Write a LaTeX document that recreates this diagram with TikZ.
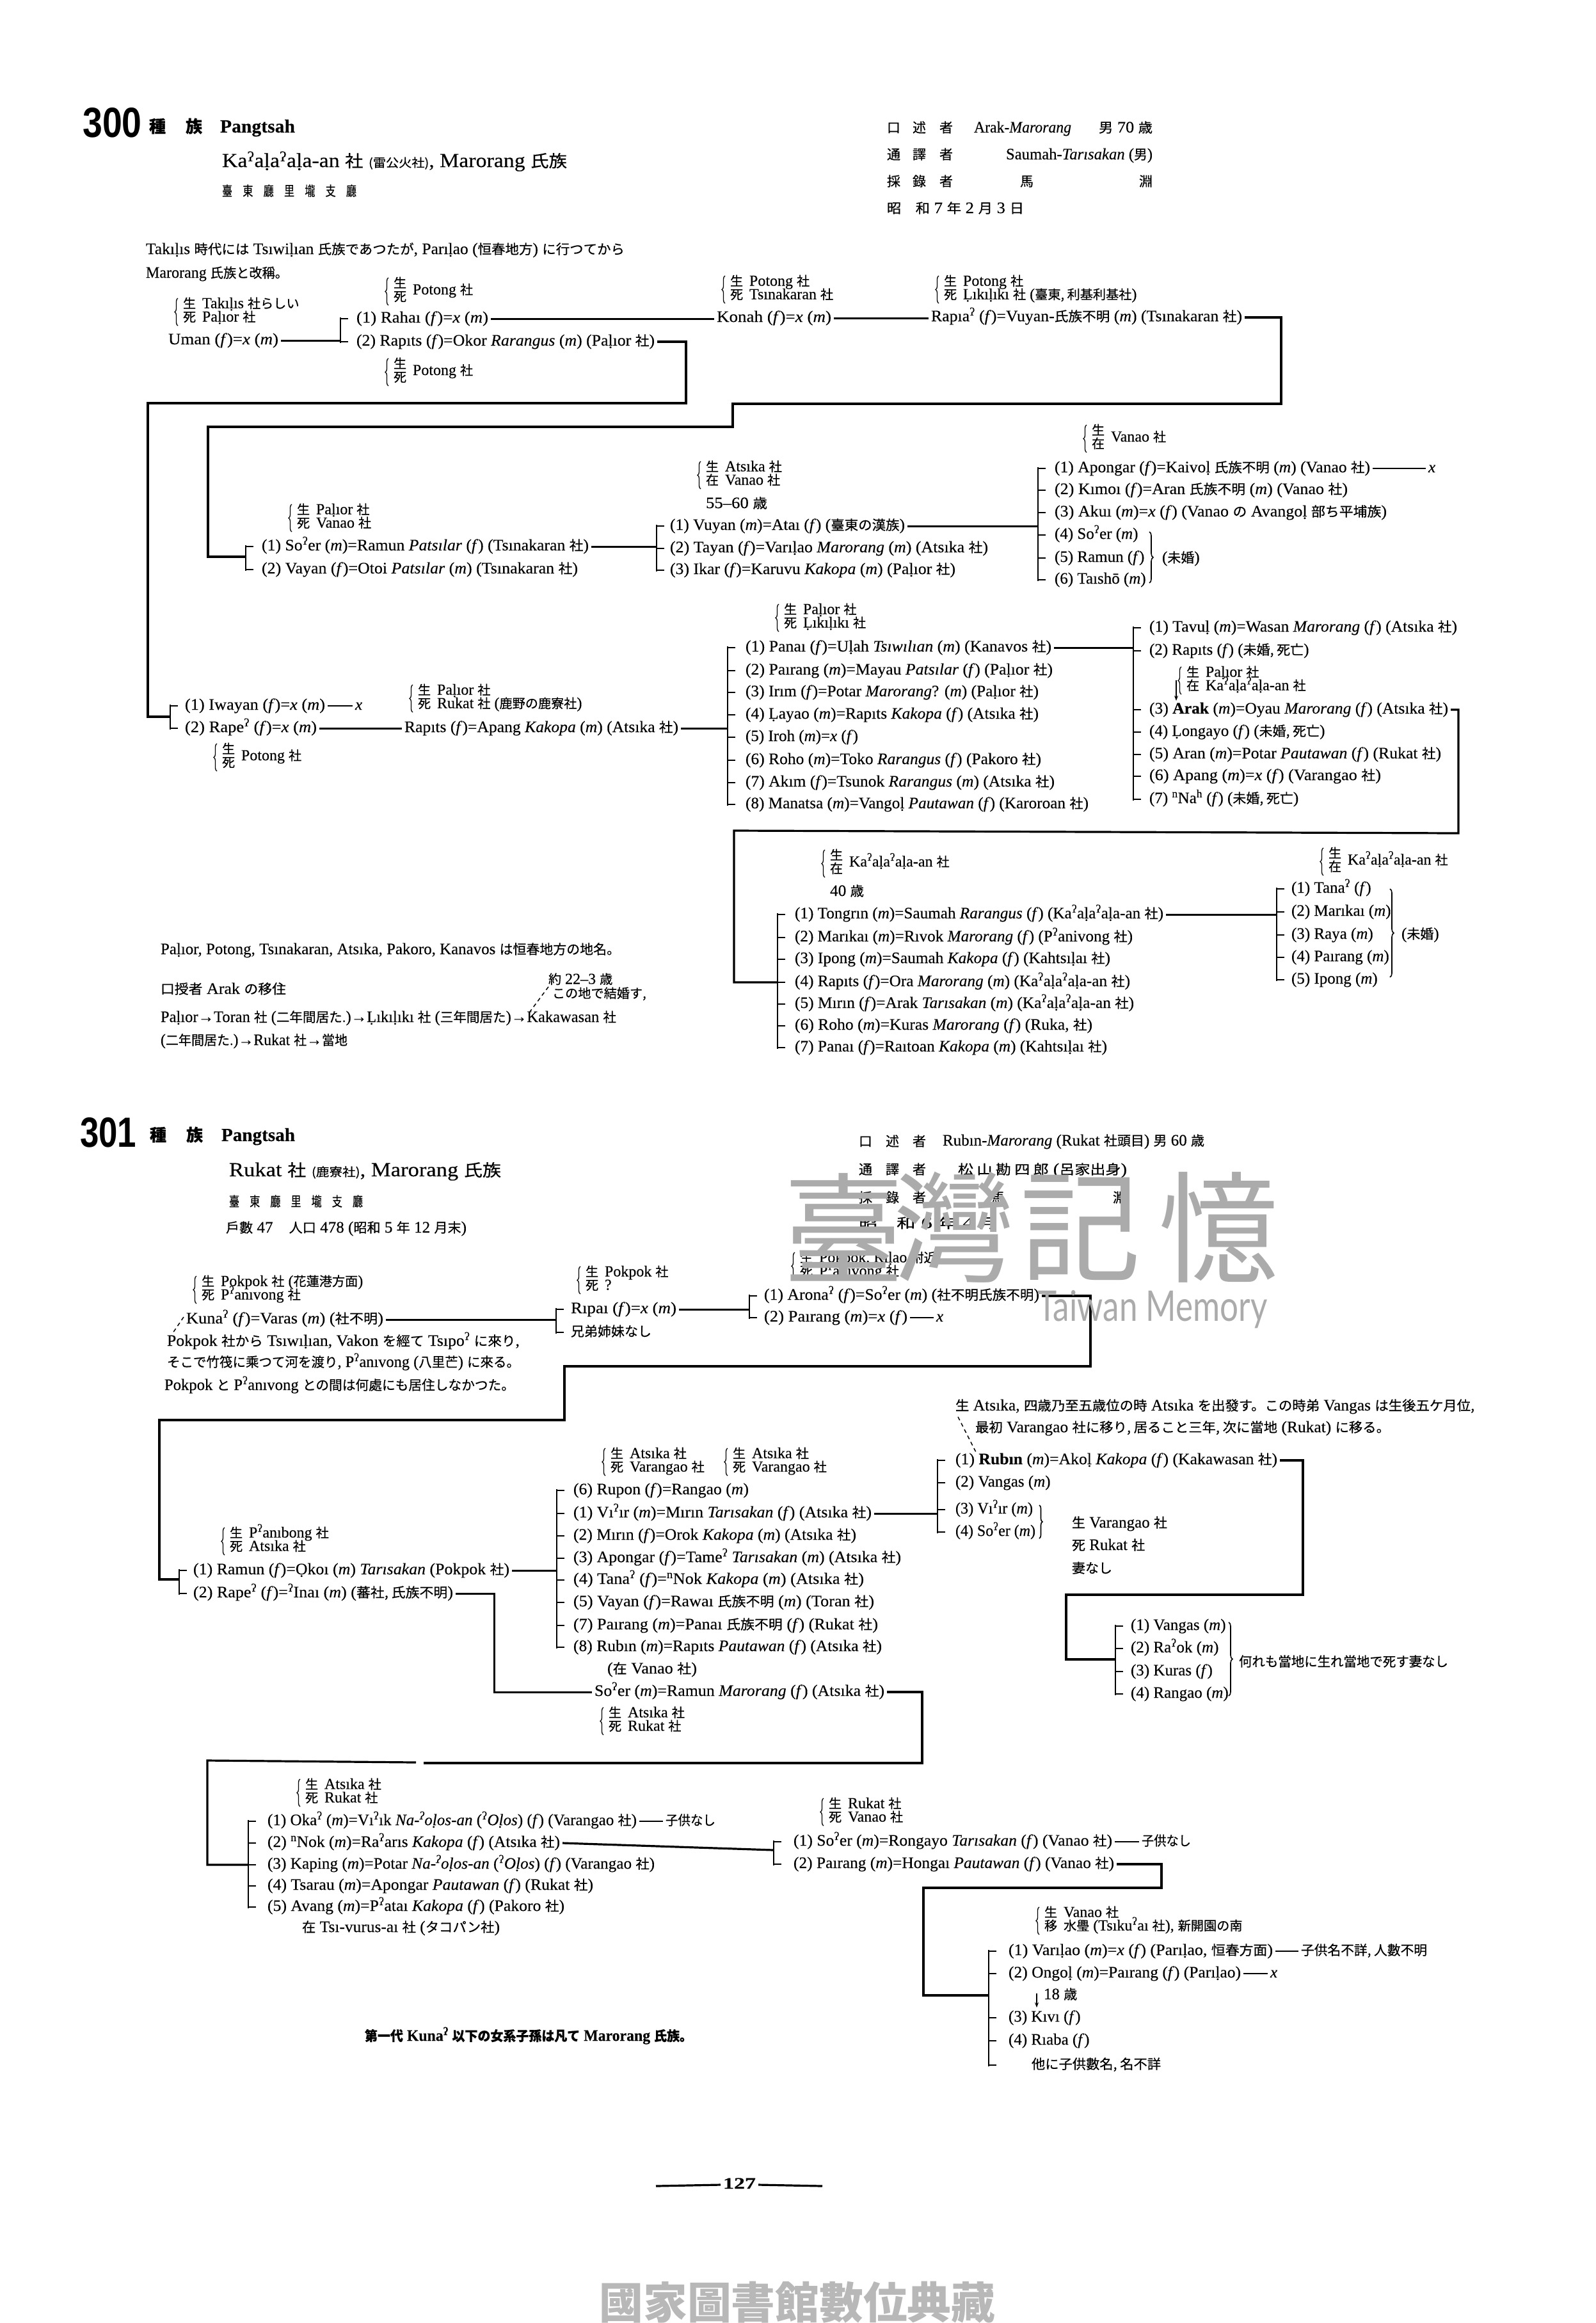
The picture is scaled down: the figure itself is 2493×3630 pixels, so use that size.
\documentclass[tikz,border=0pt]{standalone}
\usepackage{fontspec}
\usepackage{graphicx}
\usetikzlibrary{decorations.pathreplacing,arrows.meta}
\setmainfont{Liberation Serif}[FakeBold=0.25]
\newfontfamily\cjk[Scale=0.84,FakeBold=0.45]{Noto Sans CJK JP}
\newfontfamily\wmf{Noto Sans CJK JP}
\newfontfamily\sansf{Liberation Sans}
\newfontfamily\wmlat{Lato}
\newcommand\J[1]{{\cjk #1}}
\newcommand\Sh{{\cjk 社}}
\newcommand\Fm{(\textit{f})}
\newcommand\Ml{(\textit{m})}
\newcommand\Gs{\textsuperscript{ʔ}}
\newcommand\Kaa{Ka\Gs{}aḷa\Gs{}aḷa-an}
\newcommand\Plr{Paḷıor}
\newcommand\Tsn{Tsınakaran}
\newcommand\Ats{Atsıka}
\newcommand\Lik{Ḷıkıḷıkı}
\newcommand\Hsz{\fontsize{31}{36}\selectfont}
\tikzset{
  txt/.style={anchor=west,inner sep=0pt,outer xsep=4pt,xshift=-4pt,text height=18pt,text depth=6pt,font=\fontsize{25}{30}\selectfont},
  prt/.style={txt,text height=14pt,text depth=5pt,font=\fontsize{24}{26}\selectfont},
  ln/.style={line width=3pt,line join=miter},
  lnc/.style={line width=3.2pt,line join=miter},
  lnt/.style={line width=1.8pt},
  brk/.style={line width=2.4pt},
  brc/.style={line width=1.3pt,decorate,decoration={brace,amplitude=5pt,aspect=0.5}},
  dsh/.style={line width=1.5pt,dash pattern=on 6pt off 5pt},
  wmk/.style={inner sep=0pt,text=black!33,font=\fontsize{188}{200}\selectfont\wmf},
  foot/.style={inner sep=0pt,text=black!28,font=\fontsize{68}{72}\selectfont\wmf\bfseries},
}
\newcommand\Tn[4]{\node[txt] (#1) at (#2,#3) {#4};}
\newcommand\Tp[4]{\node[prt] (#1) at (#2,#3) {#4};}
\newcommand\Tw[5]{\pgfmathsetmacro{\twW}{#3-#2}\node[txt] (#1) at (#2,#4) {\resizebox{\twW pt}{\height}{#5}};}
% pair label: name, brace x, first line y, kanji1, text1, kanji2, text2
\newcommand\Pair[7]{%
  \pgfmathsetmacro{\pk}{#2+10}\pgfmathsetmacro{\pt}{#2+40}\pgfmathsetmacro{\pyb}{#3+21}%
  \Tp{#1k}{\pk}{#3}{\J{#4}}\Tp{#1t}{\pt}{#3}{#5}\Tp{#1l}{\pk}{\pyb}{\J{#6}}\Tp{#1u}{\pt}{\pyb}{#7}%
  \draw[brc] ([xshift=-4pt,yshift=-11pt]#1l.center -| #1k.west) -- ([xshift=-4pt,yshift=11pt]#1k.center -| #1k.west);}
% single label with stacked kanji
\newcommand\Sing[6]{%
  \pgfmathsetmacro{\pk}{#2+10}\pgfmathsetmacro{\pt}{#2+40}\pgfmathsetmacro{\pyb}{#3+21}\pgfmathsetmacro{\pym}{#3+10.5}%
  \Tp{#1k}{\pk}{#3}{\J{#4}}\Tp{#1l}{\pk}{\pyb}{\J{#5}}\Tp{#1t}{\pt}{\pym}{#6}%
  \draw[brc] ([xshift=-4pt,yshift=-11pt]#1l.center -| #1k.west) -- ([xshift=-4pt,yshift=11pt]#1k.center -| #1k.west);}
% bracket: id, x, first row, last row, all rows
\newcommand\Brk[5]{%
  \coordinate (#1) at (#2,0);
  \draw[brk] ([yshift=2pt]#3.center -| #1) -- ([yshift=-2pt]#4.center -| #1);
  \foreach \rw in {#5} {\draw[brk] (\rw.center -| #1) -- ++(12,0);}}
\begin{document}
\begin{tikzpicture}[x=1pt,y=-1pt]
\useasboundingbox (0,0) rectangle (2493,3630);
\fill[white] (0,0) rectangle (2493,3630);

% ================= 300 header
\node[anchor=west,inner sep=0pt,font=\fontsize{66}{70}\selectfont\sansf\bfseries] (n300) at (129,192) {\scalebox{.84}[1]{300}};
\Tn{hs1}{233}{201}{\Hsz\bfseries\J{種}}
\Tn{hs2}{290}{201}{\Hsz\bfseries\J{族}}
\Tw{hs3}{344}{461}{201}{\fontsize{29}{34}\selectfont\bfseries Pangtsah}
\Tw{h1}{347}{886}{255}{\Hsz \Kaa\ \J{社} {\cjk\fontsize{22}{24}\selectfont(雷公火社)}, Marorang \J{氏族}}
\Tw{h2}{347}{557}{300}{\J{臺　東　廳　里　壠　支　廳}}
\Tn{i1a}{1386}{201}{\J{口}}\Tn{i1b}{1426}{201}{\J{述}}\Tn{i1c}{1468}{201}{\J{者}}
\Tw{i1d}{1522}{1674}{201}{Arak-\textit{Marorang}}
\Tw{i1e}{1717}{1801}{201}{\J{男} 70 \J{歳}}
\Tn{i2a}{1386}{243}{\J{通}}\Tn{i2b}{1426}{243}{\J{譯}}\Tn{i2c}{1468}{243}{\J{者}}
\Tw{i2d}{1572}{1801}{243}{Saumah-\textit{Tarısakan} (\J{男})}
\Tn{i3a}{1386}{285}{\J{採}}\Tn{i3b}{1426}{285}{\J{錄}}\Tn{i3c}{1468}{285}{\J{者}}
\Tn{i3d}{1594}{285}{\J{馬}}\Tn{i3e}{1780}{285}{\J{淵}}
\Tw{i4}{1386}{1600}{327}{\J{昭　和} 7 \J{年} 2 \J{月} 3 \J{日}}

\Tw{in1}{228}{976}{391}{Takıḷıs \J{時代には} Tsıwiḷıan \J{氏族であつたが}, Parıḷao (\J{恒春地方}) \J{に行つてから}}
\Tw{in2}{228}{450}{428}{Marorang \J{氏族と改稱。}}

% ================= 300 row 1
\Pair{pa}{276}{477}{生}{Takıḷıs \J{社らしい}}{死}{\Plr\ \Sh}
\Sing{pb}{605}{445}{生}{死}{Potong \Sh}
\Sing{pc}{605}{571}{生}{死}{Potong \Sh}
\Tw{uman}{263}{435}{532}{Uman \Fm=\textit{x} \Ml}
\Tw{rahai}{557}{763}{498}{(1) Rahaı \Fm=\textit{x} \Ml}
\Tw{rapits}{557}{1023}{534}{(2) Rapıts \Fm=Okor \textit{Rarangus} \Ml\ (\Plr\ \Sh)}
\Brk{b1}{532}{rahai}{rapits}{rahai,rapits}
\draw[ln] (uman.east) -- (uman.east -| b1);
\Tw{konah}{1120}{1299}{497}{Konah \Fm=\textit{x} \Ml}
\draw[ln] (rahai.east) -- (rahai.east -| konah.west);
\Pair{pd}{1131}{442}{生}{Potong \Sh}{死}{\Tsn\ \Sh}
\Tw{rapia}{1455}{1941}{496}{Rapıa\Gs{} \Fm=Vuyan-\J{氏族不明} \Ml\ (\Tsn\ \Sh)}
\draw[ln] (konah.east) -- (konah.east -| rapia.west);
\Pair{pe}{1465}{442}{生}{Potong \Sh}{死}{\Lik\ \Sh\ (\J{臺東, 利基利基社})}
\coordinate (c1) at (2002,631);\coordinate (c2) at (1145,631);\coordinate (c3) at (1145,667);\coordinate (c4) at (325,667);\coordinate (c5) at (325,870);
\coordinate (d1) at (1072,630);\coordinate (d2) at (231,630);\coordinate (d3) at (231,1120);

% ================= 300 row 2
\Tw{soer}{409}{920}{854}{(1) So\Gs{}er \Ml=Ramun \textit{Patsılar} \Fm\ (\Tsn\ \Sh)}
\Tw{vayan}{409}{903}{890}{(2) Vayan \Fm=Otoi \textit{Patsılar} \Ml\ (\Tsn\ \Sh)}
\Pair{pf}{454}{799}{生}{\Plr\ \Sh}{死}{Vanao \Sh}
\Brk{b3}{384}{soer}{vayan}{soer,vayan}
\draw[lnc] (rapia.east) -| (c1) -- (c2) -- (c3) -- (c4) -- (c5) -- (c5 -| b3);
\Tw{vuyan}{1047}{1414}{822}{(1) Vuyan \Ml=Ataı \Fm\ (\J{臺東の漢族})}
\Tw{tayan}{1047}{1544}{857}{(2) Tayan \Fm=Varıḷao \textit{Marorang} \Ml\ (\Ats\ \Sh)}
\Tw{ikar}{1047}{1493}{891}{(3) Ikar \Fm=Karuvu \textit{Kakopa} \Ml\ (\Plr\ \Sh)}
\Brk{b4}{1026}{vuyan}{ikar}{vuyan,tayan,ikar}
\draw[ln] (soer.east) -- (soer.east -| b4);
\Pair{pg}{1093}{732}{生}{\Ats\ \Sh}{在}{Vanao \Sh}
\Tw{age1}{1103}{1199}{788}{55--60 \J{歳}}
\Sing{ph}{1696}{675}{生}{在}{Vanao \Sh}
\Tw{apo}{1648}{2141}{732}{(1) Apongar \Fm=Kaivoḷ \J{氏族不明} \Ml\ (Vanao \Sh)}
\Tn{xa}{2232}{732}{\textit{x}}
\draw[lnt] (apo.east) -- (xa.west);
\Tw{kimo}{1648}{2106}{766}{(2) Kımoı \Fm=Aran \J{氏族不明} \Ml\ (Vanao \Sh)}
\Tw{aku}{1648}{2167}{801}{(3) Akuı \Ml=\textit{x} \Fm\ (Vanao \J{の} Avangoḷ \J{部ち平埔族})}
\Tn{so4}{1648}{836}{(4) So\Gs{}er \Ml}
\Tn{ra5}{1648}{872}{(5) Ramun \Fm}
\Tn{ta6}{1648}{906}{(6) Taıshō \Ml}
\Brk{b5}{1622}{apo}{ta6}{apo,kimo,aku,so4,ra5,ta6}
\draw[ln] (vuyan.east) -- (vuyan.east -| b5);
\coordinate (rb1a) at (1796,831);\coordinate (rb1b) at (1796,911);
\draw[line width=1.6pt,decorate,decoration={brace,amplitude=6pt}] (rb1a) -- (rb1b);
\Tn{unm1}{1816}{873}{(\J{未婚})}

% ================= 300 row 3
\Tw{iway}{289}{508}{1103}{(1) Iwayan \Fm=\textit{x} \Ml}
\Tn{xb}{555}{1103}{\textit{x}}
\draw[lnt] (iway.east) -- (xb.west);
\Tw{rape}{289}{495}{1138}{(2) Rape\Gs{} \Fm=\textit{x} \Ml}
\Brk{b6}{266}{iway}{rape}{iway,rape}
\draw[lnc] (rapits.east) -| (d1) -- (d2) -- (d3) -- (d3 -| b6);
\Sing{pi}{337}{1173}{生}{死}{Potong \Sh}
\Tw{apang}{632}{1060}{1138}{Rapıts \Fm=Apang \textit{Kakopa} \Ml\ (\Ats\ \Sh)}
\draw[ln] (rape.east) -- (rape.east -| apang.west);
\Pair{pj}{643}{1081}{生}{\Plr\ \Sh}{死}{Rukat \Sh\ (\J{鹿野の鹿寮社})}

\Tw{ch1}{1165}{1643}{1012}{(1) Panaı \Fm=Uḷah \textit{Tsıwılıan} \Ml\ (Kanavos \Sh)}
\Tw{ch2}{1165}{1645}{1048}{(2) Paırang \Ml=Mayau \textit{Patsılar} \Fm\ (\Plr\ \Sh)}
\Tw{ch3}{1165}{1623}{1082}{(3) Irım \Fm=Potar \textit{Marorang}? \Ml\ (\Plr\ \Sh)}
\Tw{ch4}{1165}{1623}{1117}{(4) Ḷayao \Ml=Rapıts \textit{Kakopa} \Fm\ (\Ats\ \Sh)}
\Tn{ch5}{1165}{1152}{(5) Iroh \Ml=\textit{x} \Fm}
\Tw{ch6}{1165}{1627}{1188}{(6) Roho \Ml=Toko \textit{Rarangus} \Fm\ (Pakoro \Sh)}
\Tw{ch7}{1165}{1648}{1223}{(7) Akım \Fm=Tsunok \textit{Rarangus} \Ml\ (\Ats\ \Sh)}
\Tw{ch8}{1165}{1701}{1257}{(8) Manatsa \Ml=Vangoḷ \textit{Pautawan} \Fm\ (Karoroan \Sh)}
\Brk{b7}{1137}{ch1}{ch8}{ch1,ch2,ch3,ch4,ch5,ch6,ch7,ch8}
\draw[ln] (apang.east) -- (apang.east -| b7);
\Pair{pk}{1215}{955}{生}{\Plr\ \Sh}{死}{\Lik\ \Sh}

\Tw{dh1}{1796}{2277}{981}{(1) Tavuḷ \Ml=Wasan \textit{Marorang} \Fm\ (\Ats\ \Sh)}
\Tn{dh2}{1796}{1017}{(2) Rapıts \Fm\ (\J{未婚, 死亡})}
\Tw{dh3}{1796}{2263}{1109}{(3) \textbf{Arak} \Ml=Oyau \textit{Marorang} \Fm\ (\Ats\ \Sh)}
\Tn{dh4}{1796}{1144}{(4) Ḷongayo \Fm\ (\J{未婚, 死亡})}
\Tw{dh5}{1796}{2252}{1179}{(5) Aran \Ml=Potar \textit{Pautawan} \Fm\ (Rukat \Sh)}
\Tw{dh6}{1796}{2158}{1213}{(6) Apang \Ml=\textit{x} \Fm\ (Varangao \Sh)}
\Tn{dh7}{1796}{1249}{(7) \textsuperscript{n}Na\textsuperscript{h} \Fm\ (\J{未婚, 死亡})}
\Brk{b8}{1771}{dh1}{dh7}{dh1,dh2,dh3,dh4,dh5,dh6,dh7}
\draw[ln] (ch1.east) -- (ch1.east -| b8);
\Pair{pl}{1844}{1053}{生}{\Plr\ \Sh}{在}{\Kaa\ \Sh}
\coordinate (ar1) at (1838,1063);\coordinate (ar2) at (1838,1095);
\draw[line width=1.5pt,-{Stealth[length=8pt]}] (ar1) -- (ar2);

% ================= 300 row 4
\Tw{eh1}{1242}{1818}{1429}{(1) Tongrın \Ml=Saumah \textit{Rarangus} \Fm\ (\Kaa\ \Sh)}
\Tw{eh2}{1242}{1770}{1465}{(2) Marıkaı \Ml=Rıvok \textit{Marorang} \Fm\ (P\Gs{}anivong \Sh)}
\Tw{eh3}{1242}{1735}{1499}{(3) Ipong \Ml=Saumah \textit{Kakopa} \Fm\ (Kahtsıḷaı \Sh)}
\Tw{eh4}{1242}{1766}{1535}{(4) Rapıts \Fm=Ora \textit{Marorang} \Ml\ (\Kaa\ \Sh)}
\Tw{eh5}{1242}{1772}{1569}{(5) Mırın \Fm=Arak \textit{Tarısakan} \Ml\ (\Kaa\ \Sh)}
\Tw{eh6}{1242}{1707}{1603}{(6) Roho \Ml=Kuras \textit{Marorang} \Fm\ (Ruka, \Sh)}
\Tw{eh7}{1242}{1730}{1637}{(7) Panaı \Fm=Raıtoan \textit{Kakopa} \Ml\ (Kahtsıḷaı \Sh)}
\Brk{b9}{1215}{eh1}{eh7}{eh1,eh2,eh3,eh4,eh5,eh6,eh7}
\coordinate (e1) at (2279,1302);\coordinate (e2) at (1147,1298);\coordinate (e3) at (1147,1535);
\draw[lnc] (dh3.east) -| (e1) -- (e2) -- (e3) -- (e3 -| b9);
\Sing{pm}{1287}{1339}{生}{在}{\Kaa\ \Sh}
\Tw{age2}{1297}{1350}{1394}{40 \J{歳}}
\Tn{fh1}{2018}{1389}{(1) Tana\Gs{} \Fm}
\Tn{fh2}{2018}{1425}{(2) Marıkaı \Ml}
\Tn{fh3}{2018}{1461}{(3) Raya \Ml}
\Tn{fh4}{2018}{1496}{(4) Paırang \Ml}
\Tn{fh5}{2018}{1531}{(5) Ipong \Ml}
\Brk{b10}{1995}{fh1}{fh5}{fh1,fh2,fh3,fh4,fh5}
\draw[ln] (eh1.east) -- (eh1.east -| b10);
\coordinate (rb2a) at (2172,1389);\coordinate (rb2b) at (2172,1527);
\draw[line width=1.6pt,decorate,decoration={brace,amplitude=6pt}] (rb2a) -- (rb2b);
\Tn{unm2}{2190}{1461}{(\J{未婚})}
\Sing{pn}{2066}{1336}{生}{在}{\Kaa\ \Sh}

% ================= 300 notes
\Tw{nt1}{251}{969}{1485}{\Plr, Potong, \Tsn, \Ats, Pakoro, Kanavos \J{は恒春地方の地名。}}
\Tw{nt2}{251}{447}{1547}{\J{口授者} Arak \J{の移住}}
\Tw{nt3}{251}{963}{1591}{\Plr→Toran \Sh\ (\J{二年間居た.})→\Lik\ \Sh\ (\J{三年間居た})→Kakawasan \Sh}
\Tw{nt4}{251}{543}{1627}{(\J{二年間居た.})→Rukat \Sh→\J{當地}}
\node[prt] (nt5) at (857,1533) {\J{約} 22--3 \J{歳}};
\node[prt] (nt6) at (863,1555) {\J{この地で結婚す,}};
\coordinate (ds1) at (857,1542);\coordinate (ds2) at (828,1581);
\draw[dsh] (ds1) -- (ds2);

% ================= 301 header
\node[anchor=west,inner sep=0pt,font=\fontsize{66}{70}\selectfont\sansf\bfseries] (n301) at (125,1770) {\scalebox{.8}[1]{301}};
\Tn{js1}{234}{1777}{\Hsz\bfseries\J{種}}
\Tn{js2}{291}{1777}{\Hsz\bfseries\J{族}}
\Tw{js3}{346}{461}{1777}{\fontsize{29}{34}\selectfont\bfseries Pangtsah}
\Tw{j1}{358}{783}{1832}{\Hsz Rukat \J{社} {\cjk\fontsize{22}{24}\selectfont(鹿寮社)}, Marorang \J{氏族}}
\Tw{j2}{358}{567}{1879}{\J{臺　東　廳　里　壠　支　廳}}
\Tw{j3}{353}{729}{1920}{\J{戶數} 47\quad\J{人口} 478 (\J{昭和} 5 \J{年} 12 \J{月末})}
\Tn{k1a}{1342}{1785}{\J{口}}\Tn{k1b}{1384}{1785}{\J{述}}\Tn{k1c}{1426}{1785}{\J{者}}
\Tw{k1d}{1473}{1882}{1784}{Rubın-\textit{Marorang} (Rukat \J{社頭目}) \J{男} 60 \J{歳}}
\Tn{k2a}{1342}{1829}{\J{通}}\Tn{k2b}{1384}{1829}{\J{譯}}\Tn{k2c}{1426}{1829}{\J{者}}
\Tw{k2d}{1497}{1761}{1829}{\J{松 山 勘 四 郎} (\J{呂家出身})}
\Tn{k3a}{1342}{1873}{\J{採}}\Tn{k3b}{1384}{1873}{\J{錄}}\Tn{k3c}{1426}{1873}{\J{者}}
\Tn{k3d}{1549}{1873}{\J{馬}}\Tn{k3e}{1739}{1873}{\J{淵}}
\Tw{k4}{1342}{1560}{1913}{\J{昭　和} 6 \J{年} 4 \J{月}}

\Pair{qa}{305}{2005}{生}{Pokpok \Sh\ (\J{花蓮港方面})}{死}{P\Gs{}anıvong \Sh}
\Tw{kuna}{291}{599}{2062}{Kuna\Gs{} \Fm=Varas \Ml\ (\J{社不明})}
\coordinate (ds3) at (287,2058);\coordinate (ds4) at (270,2083);
\draw[dsh] (ds3) -- (ds4);
\Tw{kt1}{261}{812}{2097}{Pokpok \J{社から} Tsıwıḷıan, Vakon \J{を經て} Tsıpo\Gs{} \J{に來り},}
\Tw{kt2}{261}{812}{2130}{\J{そこで竹筏に乘つて河を渡り}, P\Gs{}anıvong (\J{八里芒}) \J{に來る。}}
\Tw{kt3}{257}{804}{2166}{Pokpok \J{と} P\Gs{}anıvong \J{との間は何處にも居住しなかつた。}}
\Tw{ripai}{892}{1057}{2046}{Rıpaı \Fm=\textit{x} \Ml}
\Tw{noko}{892}{1018}{2082}{\J{兄弟姉妹なし}}
\Brk{b11}{869}{ripai}{noko}{ripai,noko}
\draw[ln] (kuna.east) -- (kuna.east -| b11);
\Pair{qb}{905}{1990}{生}{Pokpok \Sh}{死}{?}
\Tw{arona}{1194}{1624}{2025}{(1) Arona\Gs{} \Fm=So\Gs{}er \Ml\ (\J{社不明氏族不明})}
\Tw{pai1}{1194}{1418}{2059}{(2) Paırang \Ml=\textit{x} \Fm}
\Tn{xc}{1463}{2059}{\textit{x}}
\draw[lnt] (pai1.east) -- (xc.west);
\Brk{b12}{1171}{arona}{pai1}{arona,pai1}
\draw[ln] (ripai.east) -- (ripai.east -| b12);
\Pair{qc}{1240}{1968}{生}{Pokpok, Rıḷao \J{附近}}{死}{P\Gs{}anıvong \Sh}

% ================= 301 row 2
\Tw{ramun}{302}{796}{2454}{(1) Ramun \Fm=Ọkoı \Ml\ \textit{Tarısakan} (Pokpok \Sh)}
\Tw{rapeb}{302}{708}{2490}{(2) Rape\Gs{} \Fm=\Gs{}Inaı \Ml\ (\J{蕃社, 氏族不明})}
\Brk{b13}{280}{ramun}{rapeb}{ramun,rapeb}
\coordinate (f1) at (1704,2135);\coordinate (f2) at (882,2135);\coordinate (f3) at (882,2219);\coordinate (f4) at (249,2219);\coordinate (f5) at (249,2468);
\draw[lnc] (arona.east) -| (f1) -- (f2) -- (f3) -- (f4) -- (f5) -- (f5 -| b13);
\Pair{qd}{349}{2398}{生}{P\Gs{}anıbong \Sh}{死}{\Ats\ \Sh}

\Tw{gh6}{896}{1170}{2329}{(6) Rupon \Fm=Rangao \Ml}
\Tw{gh1}{896}{1362}{2365}{(1) Vı\Gs{}ır \Ml=Mırın \textit{Tarısakan} \Fm\ (\Ats\ \Sh)}
\Tw{gh2}{896}{1338}{2400}{(2) Mırın \Fm=Orok \textit{Kakopa} \Ml\ (\Ats\ \Sh)}
\Tw{gh3}{896}{1408}{2435}{(3) Apongar \Fm=Tame\Gs{} \textit{Tarısakan} \Ml\ (\Ats\ \Sh)}
\Tw{gh4}{896}{1350}{2469}{(4) Tana\Gs{} \Fm=\textsuperscript{n}Nok \textit{Kakopa} \Ml\ (\Ats\ \Sh)}
\Tw{gh5}{896}{1366}{2504}{(5) Vayan \Fm=Rawaı \J{氏族不明} \Ml\ (Toran \Sh)}
\Tw{gh7}{896}{1372}{2540}{(7) Paırang \Ml=Panaı \J{氏族不明} \Fm\ (Rukat \Sh)}
\Tw{gh8}{896}{1378}{2574}{(8) Rubın \Ml=Rapıts \textit{Pautawan} \Fm\ (\Ats\ \Sh)}
\Tw{ghv}{949}{1089}{2609}{(\J{在} Vanao \Sh)}
\Brk{b14}{870}{gh6}{gh8}{gh6,gh1,gh2,gh3,gh4,gh5,gh7,gh8}
\draw[ln] (ramun.east) -- (ramun.east -| b14);
\Pair{qe}{944}{2274}{生}{\Ats\ \Sh}{死}{Varangao \Sh}
\Pair{qf}{1135}{2274}{生}{\Ats\ \Sh}{死}{Varangao \Sh}

\Tw{tp1}{1493}{2304}{2198}{\J{生} \Ats, \J{四歳乃至五歳位の時} \Ats\ \J{を出發す。この時弟} Vangas \J{は生後五ケ月位,}}
\Tw{tp2}{1524}{2172}{2232}{\J{最初} Varangao \J{社に移り, 居ること三年, 次に當地} (Rukat) \J{に移る。}}
\coordinate (ds5) at (1497,2214);\coordinate (ds6) at (1526,2271);
\draw[dsh] (ds5) -- (ds6);
\Tw{rubin}{1493}{1996}{2282}{(1) \textbf{Rubın} \Ml=Akoḷ \textit{Kakopa} \Fm\ (Kakawasan \Sh)}
\Tn{hh2}{1493}{2317}{(2) Vangas \Ml}
\Tw{hh3}{1493}{1614}{2359}{(3) Vı\Gs{}ır \Ml}
\Tw{hh4}{1493}{1618}{2394}{(4) So\Gs{}er \Ml}
\Brk{b15}{1465}{rubin}{hh4}{rubin,hh2,hh3,hh4}
\draw[ln] (gh1.east) -- (gh1.east -| b15);
\coordinate (rb3a) at (1624,2352);\coordinate (rb3b) at (1624,2404);
\draw[line width=1.6pt,decorate,decoration={brace,amplitude=5pt}] (rb3a) -- (rb3b);
\Tn{vr1}{1675}{2381}{\J{生} Varangao \Sh}
\Tn{vr2}{1675}{2416}{\J{死} Rukat \Sh}
\Tn{vr3}{1675}{2452}{\J{妻なし}}
\Tn{ih1}{1767}{2541}{(1) Vangas \Ml}
\Tn{ih2}{1767}{2576}{(2) Ra\Gs{}ok \Ml}
\Tn{ih3}{1767}{2612}{(3) Kuras \Fm}
\Tn{ih4}{1767}{2647}{(4) Rangao \Ml}
\Brk{b16}{1743}{ih1}{ih4}{ih1,ih2,ih3,ih4}
\coordinate (h1) at (2036,2492);\coordinate (h2) at (1666,2492);\coordinate (h3) at (1666,2593);
\draw[lnc] (rubin.east) -| (h1) -- (h2) -- (h3) -- (h3 -| b16);
\coordinate (rb4a) at (1920,2535);\coordinate (rb4b) at (1920,2650);
\draw[line width=1.6pt,decorate,decoration={brace,amplitude=6pt}] (rb4a) -- (rb4b);
\Tw{ihn}{1936}{2263}{2598}{\J{何れも當地に生れ當地で死す妻なし}}

\Tw{soerb}{929}{1382}{2644}{So\Gs{}er \Ml=Ramun \textit{Marorang} \Fm\ (\Ats\ \Sh)}
\coordinate (g1) at (772,2644);
\draw[ln] (rapeb.east) -| (g1) -- (soerb.west);
\Pair{qg}{941}{2679}{生}{\Ats\ \Sh}{死}{Rukat \Sh}

% ================= 301 row 3
\Tw{lh1}{418}{995}{2846}{(1) Oka\Gs{} \Ml=Vı\Gs{}ık \textit{Na-\Gs{}oḷos-an} (\Gs{}\textit{Oḷos}) \Fm\ (Varangao \Sh)}
\Tw{lhn}{1040}{1118}{2846}{\J{子供なし}}
\draw[lnt] (lh1.east) -- (lhn.west);
\Tw{lh2}{418}{875}{2880}{(2) \textsuperscript{n}Nok \Ml=Ra\Gs{}arıs \textit{Kakopa} \Fm\ (\Ats\ \Sh)}
\Tw{lh3}{418}{1023}{2914}{(3) Kaping \Ml=Potar \textit{Na-\Gs{}oḷos-an} (\Gs{}\textit{Oḷos}) \Fm\ (Varangao \Sh)}
\Tw{lh4}{418}{927}{2947}{(4) Tsarau \Ml=Apongar \textit{Pautawan} \Fm\ (Rukat \Sh)}
\Tw{lh5}{418}{882}{2980}{(5) Avang \Ml=P\Gs{}ataı \textit{Kakopa} \Fm\ (Pakoro \Sh)}
\Tw{lh6}{472}{781}{3013}{\J{在} Tsı-vurus-aı \Sh\ (\J{タコパン社})}
\Brk{b17}{388}{lh1}{lh5}{lh1,lh2,lh3,lh4,lh5}
\coordinate (m1) at (1441,2755);\coordinate (m2) at (662,2755);\coordinate (m3) at (650,2754);\coordinate (m4) at (324,2751);\coordinate (m5) at (324,2914);
\draw[lnc] (soerb.east) -| (m1) -- (m2);
\draw[lnc] (m3) -- (m4) -- (m5) -- (m5 -| b17);
\Pair{qh}{467}{2791}{生}{\Ats\ \Sh}{死}{Rukat \Sh}

\Tw{nh1}{1240}{1738}{2878}{(1) So\Gs{}er \Ml=Rongayo \textit{Tarısakan} \Fm\ (Vanao \Sh)}
\Tw{nhn}{1784}{1861}{2878}{\J{子供なし}}
\draw[lnt] (nh1.east) -- (nhn.west);
\Tw{nh2}{1240}{1741}{2913}{(2) Paırang \Ml=Hongaı \textit{Pautawan} \Fm\ (Vanao \Sh)}
\Brk{b18}{1209}{nh1}{nh2}{nh1,nh2}
\coordinate (n1) at (1209,2891);
\draw[lnc] (lh2.east) -- (n1);
\Pair{qi}{1285}{2821}{生}{Rukat \Sh}{死}{Vanao \Sh}

\Tw{oh1}{1576}{1989}{3049}{(1) Varıḷao \Ml=\textit{x} \Fm\ (Parıḷao, \J{恒春方面})}
\Tw{ohn}{2033}{2230}{3049}{\J{子供名不詳, 人數不明}}
\draw[lnt] (oh1.east) -- (ohn.west);
\Tw{oh2}{1576}{1939}{3084}{(2) Ongoḷ \Ml=Paırang \Fm\ (Parıḷao)}
\Tn{xd}{1985}{3084}{\textit{x}}
\draw[lnt] (oh2.east) -- (xd.west);
\Tn{age3}{1631}{3118}{18 \J{歳}}
\coordinate (ar3) at (1620,3115);\coordinate (ar4) at (1620,3137);
\draw[line width=1.5pt,-{Stealth[length=8pt]}] (ar3) -- (ar4);
\Tn{oh3}{1576}{3153}{(3) Kıvı \Fm}
\Tn{oh4}{1576}{3189}{(4) Rıaba \Fm}
\Tw{oh5}{1612}{1814}{3227}{\J{他に子供數名, 名不詳}}
\Brk{b19}{1545}{oh1}{oh5}{oh1,oh2,oh3,oh4,oh5}
\coordinate (o1) at (1815,2950);\coordinate (o2) at (1443,2950);\coordinate (o3) at (1443,3118);
\draw[lnc] (nh2.east) -| (o1) -- (o2) -- (o3) -- (o3 -| b19);
\Pair{qj}{1622}{2991}{生}{Vanao \Sh}{移}{\J{水璺} (Tsıku\Gs{}aı \Sh), \J{新開園の南}}

\Tw{ft}{570}{1082}{3183}{\bfseries\J{第一代} Kuna\Gs{} \J{以下の女系子孫は凡て} Marorang \J{氏族。}}
\Tw{pg}{1130}{1181}{3414}{\bfseries 127}
\coordinate (pl1) at (1025,3416);\coordinate (pr1) at (1285,3416);
\draw[lnc] (pl1) -- (pg.west);
\draw[lnc] (pg.east) -- (pr1);

% ================= watermarks
\node[wmk] (wm1) at (1318,1918) {臺};
\node[wmk] (wm2) at (1490,1918) {灣};
\node[wmk] (wm3) at (1688,1918) {記};
\node[wmk] (wm4) at (1904,1918) {憶};
\node[inner sep=0pt,text=black!33,font=\fontsize{66}{70}\selectfont\wmlat] (wm5) at (1801,2046) {\resizebox{359pt}{\height}{Taiwan Memory}};
\node[foot] (wf) at (1246,3598) {\resizebox{619pt}{\height}{國家圖書館數位典藏}};
\end{tikzpicture}
\end{document}
